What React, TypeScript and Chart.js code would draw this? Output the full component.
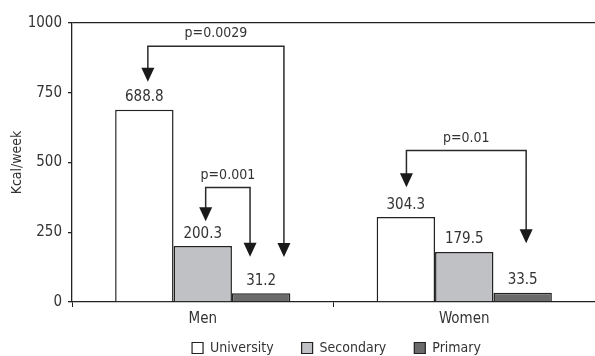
import React, { useEffect, useRef } from "react";
import { Chart, registerables } from "chart.js";

Chart.register(...registerables);

const categories = ["Men", "Women"];
const seriesNames = ["University", "Secondary", "Primary"];
const university = [688.8, 304.3];
const secondary = [200.3, 179.5];
const primary = [31.2, 33.5];
const seriesFills = ["#ffffff", "#c0c1c4", "#6b6b6b"];
const yTicks = [0, 250, 500, 750, 1000];

// significance brackets
const pLabels = ["p=0.0029", "p=0.001", "p=0.01"];
const pGroup = [0, 0, 1];
const pFrom = [0, 1, 0];
const pTo = [2, 2, 2];
const pFromShift = [0.06, 0.05, 0.01];
const pToShift = [0.39, -0.19, 0.06];
const pLevel = [917, 410, 543];
const pFromTip = [789, 289, 411];
const pToTip = [161, 162, 211];

const FONT = "'Liberation Sans Narrow', 'DejaVu Sans Condensed', 'Liberation Sans', sans-serif";
const TEXT = "#333333";
const LINE = "#222222";
const LEGEND_PAD = 28;
const LEGEND_CENTER_Y = 348;
const LEGEND_SHIFT_X = 39;

const overlay = {
  id: "overlay",
  afterLayout(chart: any) {
    const lg = chart.legend;
    if (!lg) return;
    const ih = (lg.legendHitBoxes && lg.legendHitBoxes[0] && lg.legendHitBoxes[0].height) || 17;
    const newTop = LEGEND_CENTER_Y - LEGEND_PAD - ih / 2;
    const d = newTop - lg.top;
    lg.top += d;
    lg.bottom += d;
    lg.left += LEGEND_SHIFT_X;
    lg.right += LEGEND_SHIFT_X;
  },
  afterDatasetsDraw(chart: any) {
    const ctx = chart.ctx;
    const y = chart.scales.y;
    ctx.save();
    ctx.fillStyle = TEXT;
    ctx.font = `15px ${FONT}`;
    ctx.textAlign = "center";
    ctx.textBaseline = "alphabetic";
    chart.data.datasets.forEach((ds: any, di: number) => {
      const meta = chart.getDatasetMeta(di);
      meta.data.forEach((bar: any, i: number) => {
        const v = ds.data[i];
        ctx.fillText(v.toFixed(1), bar.x, bar.y - 8.5);
      });
    });
    // brackets
    ctx.strokeStyle = "#2a2a2a";
    ctx.lineWidth = 1.5;
    for (let k = 0; k < pLabels.length; k++) {
      const b1 = chart.getDatasetMeta(pFrom[k]).data[pGroup[k]];
      const b2 = chart.getDatasetMeta(pTo[k]).data[pGroup[k]];
      const w = b1.width;
      const x1 = b1.x + pFromShift[k] * w;
      const x2 = b2.x + pToShift[k] * w;
      const yl = y.getPixelForValue(pLevel[k]);
      const t1 = y.getPixelForValue(pFromTip[k]);
      const t2 = y.getPixelForValue(pToTip[k]);
      const ah = 14;
      const aw = 6.5;
      ctx.beginPath();
      ctx.moveTo(x1, t1 - ah + 1);
      ctx.lineTo(x1, yl);
      ctx.lineTo(x2, yl);
      ctx.lineTo(x2, t2 - ah + 1);
      ctx.stroke();
      ctx.fillStyle = "#1a1a1a";
      [[x1, t1], [x2, t2]].forEach(([ax, ay]) => {
        ctx.beginPath();
        ctx.moveTo(ax - aw, ay - ah);
        ctx.lineTo(ax + aw, ay - ah);
        ctx.lineTo(ax, ay);
        ctx.closePath();
        ctx.fill();
      });
      ctx.fillStyle = TEXT;
      ctx.font = `14px ${FONT}`;
      ctx.fillText(pLabels[k], (x1 + x2) / 2, yl - 9);
    }
    ctx.restore();
  },
};

export default function App() {
  const ref = useRef<HTMLCanvasElement>(null);
  useEffect(() => {
    if (!ref.current) return;
    const values = [university, secondary, primary];
    const chart = new Chart(ref.current, {
      type: "bar",
      data: {
        labels: categories,
        datasets: seriesNames.map((name, i) => ({
          label: name,
          data: values[i],
          backgroundColor: seriesFills[i],
          borderColor: LINE,
          borderWidth: 1.5,
          categoryPercentage: 0.67,
          barPercentage: 1.0,
        })),
      },
      options: {
        animation: false,
        responsive: false,
        maintainAspectRatio: false,
        layout: { padding: { top: 23, right: 0, left: 0, bottom: -27 } },
        plugins: {
          tooltip: { enabled: false },
          legend: {
            position: "bottom",
            labels: {
              color: TEXT,
              font: { family: FONT, size: 14 },
              boxWidth: 11,
              boxHeight: 11,
              padding: LEGEND_PAD,
              generateLabels: (chart: any) =>
                chart.data.datasets.map((ds: any, i: number) => ({
                  text: ds.label,
                  fillStyle: ds.backgroundColor,
                  strokeStyle: LINE,
                  lineWidth: 1.2,
                  fontColor: TEXT,
                  datasetIndex: i,
                  hidden: false,
                })),
            },
          },
        },
        scales: {
          x: {
            grid: {
              drawOnChartArea: false,
              color: LINE,
              tickLength: 5,
              offset: true,
            },
            border: { color: LINE, width: 1.3 },
            ticks: { color: TEXT, font: { family: FONT, size: 15 }, padding: 3 },
          },
          y: {
            min: 0,
            max: 1000,
            afterBuildTicks: (s: any) => {
              s.ticks = yTicks.map((v) => ({ value: v }));
            },
            afterFit: (s: any) => {
              s.width = 72;
            },
            grid: {
              color: (c: any) => (c.tick && c.tick.value === 1000 ? LINE : "transparent"),
              tickColor: LINE,
              tickLength: 4,
              lineWidth: 1.3,
            },
            border: { color: LINE, width: 1.3 },
            ticks: {
              color: TEXT,
              font: { family: FONT, size: 15 },
              padding: 6,
              callback: (v: any) => String(v),
            },
            title: {
              display: true,
              text: "Kcal/week",
              color: TEXT,
              font: { family: FONT, size: 14 },
              padding: { top: 9, bottom: 0 },
            },
          },
        },
      },
      plugins: [overlay],
    });
    return () => chart.destroy();
  }, []);
  return (
    <div style={{ position: "absolute", left: 0, top: 0, width: 595, height: 356, background: "#fff" }}>
      <canvas ref={ref} width={595} height={356} style={{ width: 595, height: 356 }} />
    </div>
  );
}
